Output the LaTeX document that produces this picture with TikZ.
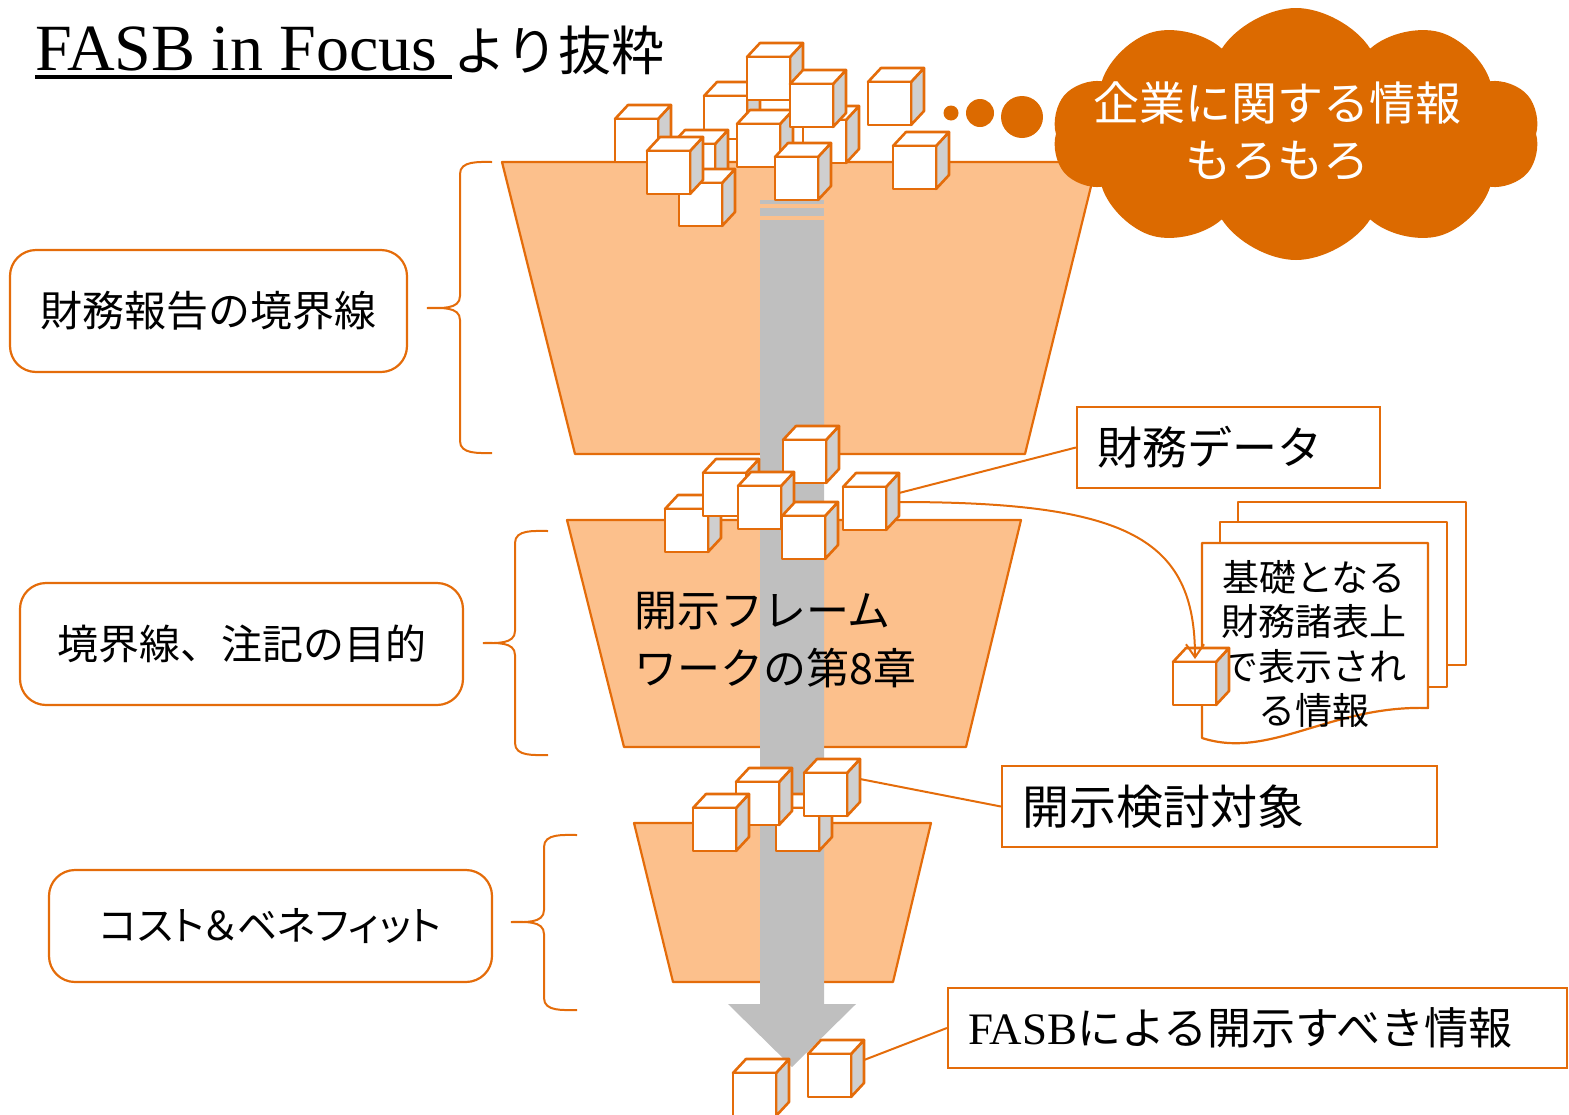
\documentclass[tikz,border=0pt]{standalone}
\usepackage{fontspec}
\setmainfont{Liberation Serif}
\newfontfamily\jp{Noto Sans CJK JP}
\newfontfamily\jpprop{Noto Sans CJK JP}[RawFeature=+palt]
\usetikzlibrary{shapes.symbols,arrows.meta}
\definecolor{acc}{HTML}{E46C0A}
\definecolor{funfill}{HTML}{FCC08C}
\definecolor{cloudc}{HTML}{DC6A00}
\definecolor{shaftc}{HTML}{BFBFBF}
\definecolor{cubeside}{HTML}{CFCFCF}

% left curly brace: end x, spine x, tip x, top y, tip y, bottom y
\newcommand\curlybrace[6]{%
  \draw[bracel] (#1,#4) to[out=180,in=90] (#2,#4+12) -- (#2,#5-12)
    to[out=-90,in=0] (#3,#5) to[out=0,in=90] (#2,#5+12) -- (#2,#6-12)
    to[out=-90,in=180] (#1,#6);}

\begin{document}
\begin{tikzpicture}[x=1pt,y=-1pt,
  cubeedge/.style={draw=acc,line width=2.6,line join=round},
  cube/.pic={
    \filldraw[cubeedge,fill=cubeside] (43,0) -- (56,-14) -- (56,29) -- (43,43) -- cycle;
    \filldraw[cubeedge,fill=white] (0,0) -- (13,-14) -- (56,-14) -- (43,0) -- cycle;
    \filldraw[cubeedge,fill=white] (0,0) rectangle (43,43);
    \coordinate (-e1) at (56,6);
    \coordinate (-e2) at (56,15);
    \coordinate (-top) at (22,-3);
  },
  funnel/.style={draw=acc,fill=funfill,line width=2.2,line join=round},
  bracel/.style={draw=acc,line width=2},
  lbox/.style={draw=acc,line width=2.2,rounded corners=26,fill=white,inner sep=0},
  rbox/.style={draw=acc,line width=2.2,fill=white,inner xsep=20,inner ysep=0,align=left},
  conn/.style={draw=acc,line width=2},
  doc/.style={draw=acc,line width=2.2,fill=white,line join=round},
]
\useasboundingbox (0,0) rectangle (1569,1114);

% title
\node[anchor=base west,inner sep=0] (title) at (35,70)
  {{\fontsize{66}{70}\selectfont FASB in Focus }{\jp\fontsize{53}{60}\selectfont より抜粋}};
\draw[line width=3.5] (35,77) -- (452,77);

% three funnel stages
\filldraw[funnel] (502,162) -- (1097,162) -- (1025,454) -- (575,454) -- cycle;
\filldraw[funnel] (567,520) -- (1021,520) -- (966,747) -- (624,747) -- cycle;
\filldraw[funnel] (634,823) -- (931,823) -- (893,982) -- (673,982) -- cycle;

% braces
\curlybrace{492}{460}{427}{162}{308}{453}
\curlybrace{548}{515}{483}{531}{643}{755}
\curlybrace{577}{544}{511}{835}{922}{1010}

% stage labels
\node[lbox,minimum width=397,minimum height=122,font=\jp\fontsize{42}{50}\selectfont] (b1) at (208.5,311) {財務報告の境界線};
\node[lbox,minimum width=443,minimum height=122,font=\jp\fontsize{41}{50}\selectfont] (b2) at (241.5,644) {境界線、注記の目的};
\node[lbox,minimum width=443,minimum height=112,font=\jpprop\fontsize{40}{48}\selectfont] (b3) at (270.5,926) {コスト＆ベネフィット};

% grey flow arrow
\fill[shaftc] (760,200) rectangle (824,204);
\fill[shaftc] (760,208) rectangle (824,216);
\fill[shaftc] (760,220) -- (824,220) -- (824,1004) -- (856,1004) -- (792,1067)
  -- (728,1004) -- (760,1004) -- cycle;

% text of the middle stage
\node[anchor=west,align=left,inner sep=0,font=\jp\fontsize{43}{58}\selectfont] (ch8) at (634,640)
  {開示フレーム\\ワークの第8章};

% pile of information at the top
\pic (A) at (615,119) {cube};
\pic (B) at (704,96) {cube};
\pic (J) at (672,144) {cube};
\pic (K) at (679,183) {cube};
\pic (I) at (647,151) {cube};
\pic (C) at (747,57) {cube};
\pic (F) at (737,124) {cube};
\pic (E) at (803,120) {cube};
\pic (D) at (790,84) {cube};
\pic (L) at (775,157) {cube};
\pic (G) at (868,82) {cube};
\pic (H) at (893,146) {cube};

% financial data
\pic (M1) at (665,509) {cube};
\pic (M2) at (703,473) {cube};
\pic (M3) at (783,440) {cube};
\pic (M4) at (738,486) {cube};
\pic (M5) at (782,516) {cube};
\pic (M6) at (843,487) {cube};

% items considered for disclosure
\pic (N3) at (776,808) {cube};
\pic (N2) at (736,782) {cube};
\pic (N1) at (693,808) {cube};
\pic (N4) at (804,773) {cube};

% items to be disclosed
\pic (BL) at (733,1073) {cube};
\pic (BR) at (808,1054) {cube};

% thought cloud
\fill[cloudc] (951,113) circle (7.5);
\fill[cloudc] (980,113) circle (14);
\fill[cloudc] (1022,117) circle (21);
\node[cloud,cloud puffs=10,cloud puff arc=115,aspect=1.95,minimum width=487,minimum height=252,
  fill=cloudc,draw=none,inner sep=0] (cl) at (1296,134) {};
\node[align=center,text=white,inner sep=0,font=\jp\fontsize{46}{57}\selectfont] (cltext) at (1277,131)
  {企業に関する情報\\もろもろ};

% stack of statements
\filldraw[doc] (1238,502) rectangle (1466,665);
\filldraw[doc] (1220,522) rectangle (1447,687);
\filldraw[doc] (1202,543) -- (1428,543) -- (1428,708)
  .. controls (1330,705) and (1270,760) .. (1202,738) -- cycle;
\node[align=center,inner sep=0,font=\jp\fontsize{37}{44.5}\selectfont] (doctext) at (1314,644)
  {基礎となる\\財務諸表上\\で表示され\\る情報};
\pic (DC) at (1173,662) {cube};

% callout boxes
\node[rbox,text width=263,minimum height=81,font=\jp\fontsize{45}{50}\selectfont] (fd) at (1228.5,447.5) {財務データ};
\node[rbox,text width=395,minimum height=81,font=\jp\fontsize{47}{52}\selectfont] (dk) at (1219.5,806.5) {開示検討対象};
\node[rbox,text width=579,minimum height=80,font=\jp\fontsize{44}{50}\selectfont] (fasb) at (1257.5,1028)
  {{\rmfamily\fontsize{45}{50}\selectfont FASB}による開示すべき情報};

% connectors
\draw[conn] (M6-e1) -- (fd.west);
\draw[conn,-{Straight Barb[length=13pt,width=18pt]}] (M6-e2) .. controls +(230,0) and +(0,-120) .. (DC-top);
\draw[conn] (N4-e1) -- (dk.west);
\draw[conn] (BR-e1) -- (fasb.west);
\end{tikzpicture}
\end{document}
